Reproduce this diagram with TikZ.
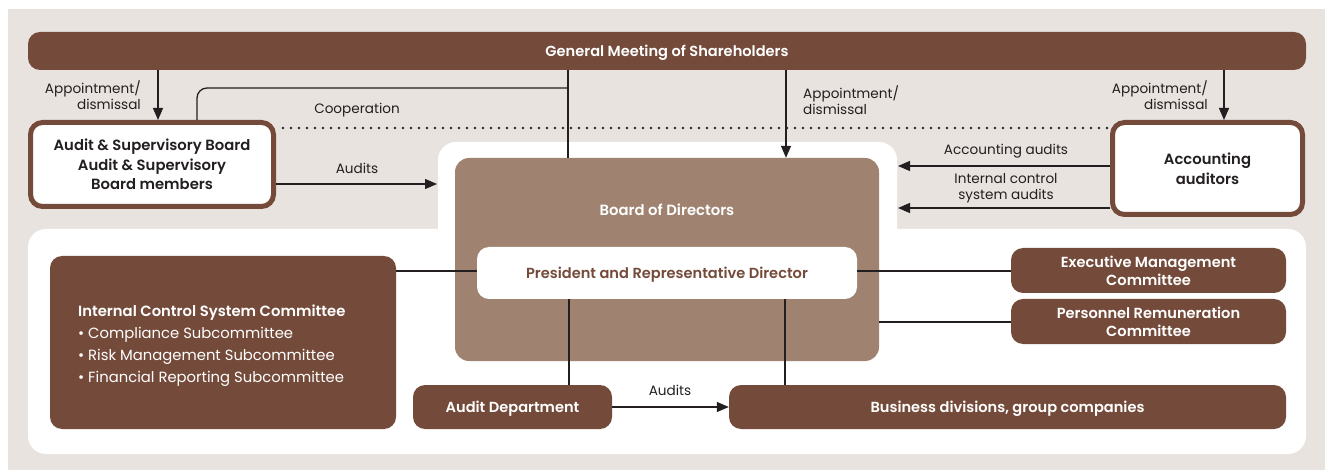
\documentclass[tikz,border=0pt]{standalone}
\usepackage{fontspec}
\setmainfont{Poppins}[BoldFont={Poppins SemiBold}]
\usetikzlibrary{arrows.meta}

\definecolor{bark}{HTML}{744B3A}
\definecolor{clay}{HTML}{A08270}
\definecolor{sand}{HTML}{E8E3DF}
\definecolor{ink}{HTML}{231F20}

\tikzset{
  darkbox/.style={fill=bark, text=white, rounded corners=12, inner sep=0pt,
    align=center, font=\fontsize{14.6}{18}\selectfont\bfseries},
  framebox/.style={draw=bark, line width=5pt, fill=white, text=ink, rounded corners=12,
    inner sep=0pt, align=center, font=\fontsize{14.8}{19.5}\selectfont\bfseries},
  lbl/.style={text=ink, inner sep=0pt, align=center, font=\fontsize{13.6}{16}\selectfont},
  conn/.style={draw=ink, line width=1.3pt},
  arr/.style={conn, -{Triangle[length=12pt,width=10pt]}},
  dotline/.style={draw=ink, line width=2.6pt, line cap=round, dash pattern=on 0pt off 8pt},
  flat/.style={text depth=0pt},
}

\begin{document}
\begin{tikzpicture}[x=1pt, y=-1pt]
\useasboundingbox (0,0) rectangle (1325,470);
% backdrop and white working panel
\fill[white] (0,0) rectangle (1325,470);
\fill[sand] (8,9) rectangle (1325,470);
\fill[white, rounded corners=18] (28,229) rectangle (1306,454);
\fill[white, rounded corners=18] (438,142) rectangle (897,250);

% helper coordinates
\coordinate (c158) at (158,0);
\coordinate (c197) at (197,0);
\coordinate (c568) at (568,0);
\coordinate (c569) at (569,0);
\coordinate (c785) at (785,0);
\coordinate (c786) at (786,0);
\coordinate (c1224) at (1224,0);
\coordinate (c271) at (0,271);
\coordinate (c322) at (0,322);
\coordinate (coop) at (568,88);
\coordinate (dotA) at (283,128);
\coordinate (auTip) at (437,184);
\coordinate (p166) at (898,166);
\coordinate (p208) at (898,208);

% nodes
\node[darkbox, flat, minimum width=1278pt, minimum height=38pt]
  (gm) at (667,51) {General Meeting of Shareholders};
\node[framebox, text depth=-5pt, minimum width=243pt, minimum height=84pt] (asb) at (152,164.5)
  {Audit \& Supervisory Board\\Audit \& Supervisory\\Board members};
\node[framebox, text depth=-6pt, minimum width=190pt, minimum height=92pt] (aa) at (1207.5,168.5)
  {Accounting\\auditors};
\node[fill=clay, rounded corners=14, minimum width=424pt, minimum height=203pt, inner sep=0pt]
  (bod) at (667,259.5) {};
\node[text=white, inner sep=0pt, font=\fontsize{14.8}{18}\selectfont\bfseries] (bodtext) at (667,209.5) {Board of Directors};
\node[fill=white, text=bark, flat, rounded corners=12, minimum width=380pt, minimum height=52pt, inner sep=0pt,
  font=\fontsize{14.6}{18}\selectfont\bfseries] (prd) at (667,273) {President and Representative Director};
\node[fill=bark, rounded corners=12, minimum width=346pt, minimum height=173pt, inner sep=0pt]
  (icsc) at (223,342.5) {};
\node[anchor=west, text=white, inner sep=0pt, align=left, font=\fontsize{14.8}{22.2}\selectfont]
  (icsctext) at (78,345.5)
  {\textbf{Internal Control System Committee}\\
   • Compliance Subcommittee\\
   • Risk Management Subcommittee\\
   • Financial Reporting Subcommittee};
\node[darkbox, flat, minimum width=199pt, minimum height=44pt] (ad) at (512.5,407) {Audit Department};
\node[darkbox, flat, minimum width=557pt, minimum height=44pt] (bd) at (1007.5,407) {Business divisions, group companies};
\node[darkbox, minimum width=275pt, minimum height=45pt] (emc) at (1148.5,270.5) {Executive Management\\Committee};
\node[darkbox, minimum width=275pt, minimum height=45pt] (prc) at (1148.5,321.5) {Personnel Remuneration\\Committee};

% appointment / dismissal from the general meeting
\draw[arr] (gm.south -| c158) -- (asb.north -| c158);
\node[lbl, anchor=east, align=right] (lapp1) at (141,95) {Appointment/\\dismissal};
\draw[arr] (gm.south -| c786) -- (bod.north -| c786);
\node[lbl, anchor=west, align=left] (lapp2) at (803,100) {Appointment/\\dismissal};
\draw[arr] (gm.south -| c1224) -- (aa.north -| c1224);
\node[lbl, anchor=east, align=right] (lapp3) at (1208,95) {Appointment/\\dismissal};

% cooperation between the boards
\draw[conn] (gm.south -| c568) -- (bod.north -| c568);
\draw[conn, rounded corners=10] (asb.north -| c197) |- (coop);
\node[lbl, flat] (lcoop) at (357,108) {Cooperation};
\draw[dotline] (dotA) -- (aa.west |- dotA);

% audits towards the board of directors
\draw[arr] (asb.east |- auTip) -- (auTip);
\node[lbl] (laud1) at (357,168) {Audits};
\draw[arr] (aa.west |- p166) -- (p166);
\node[lbl, flat] (lacc) at (1006,149) {Accounting audits};
\draw[arr] (aa.west |- p208) -- (p208);
\node[lbl] (licsa) at (1006,188) {Internal control\\system audits};

% links inside the organisation
\draw[conn] (icsc.east |- c271) -- (prd.west |- c271);
\draw[conn] (prd.east |- c271) -- (emc.west |- c271);
\draw[conn] (bod.east |- c322) -- (prc.west |- c322);
\draw[conn] (prd.south -| c569) -- (ad.north -| c569);
\draw[conn] (prd.south -| c785) -- (bd.north -| c785);
\draw[arr] (ad.east) -- (bd.west);
\node[lbl] (laud2) at (670,390) {Audits};
\end{tikzpicture}
\end{document}
